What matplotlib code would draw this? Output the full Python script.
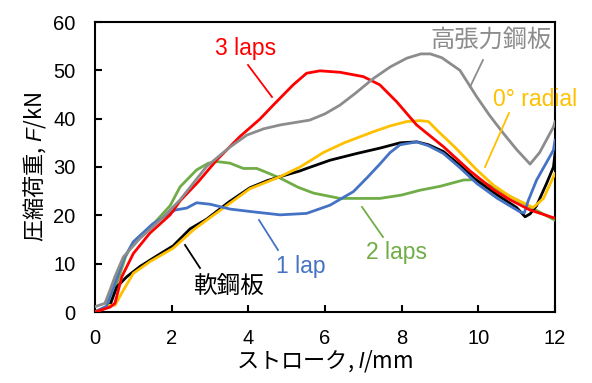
import matplotlib
matplotlib.use("Agg")
import matplotlib.pyplot as plt

plt.rcParams['font.family'] = ['Liberation Sans', 'Noto Sans CJK JP', 'DejaVu Sans']
plt.rcParams['mathtext.fontset'] = 'custom'
plt.rcParams['mathtext.it'] = 'Liberation Sans:italic'
plt.rcParams['mathtext.rm'] = 'Liberation Sans'

# ---- data (stroke l / mm, load F / kN) ----
x_red = [0, 0.39, 0.52, 0.70, 1.0, 1.43, 1.96, 2.22, 2.7, 3.17, 3.78, 4.3, 4.65, 5.17, 5.52, 5.87, 6.39, 7.0, 7.43, 7.87, 8.39, 9.09, 9.78, 10.4, 10.83, 11.35, 12.0]
y_red = [0, 1.0, 1.8, 7.3, 12.1, 16.3, 20.1, 23.0, 27.0, 31.4, 36.3, 39.9, 42.8, 47.0, 49.4, 49.9, 49.6, 48.7, 47.0, 43.5, 38.7, 34.2, 29.2, 25.3, 23.2, 21.1, 19.4]

x_gray = [0, 0.26, 0.39, 0.52, 0.74, 1.17, 1.70, 2.22, 2.91, 3.5, 3.96, 4.4, 4.83, 5.6, 6.0, 6.39, 6.8, 7.26, 7.7, 8.13, 8.5, 8.75, 9.05, 9.52, 9.96, 10.3, 10.65, 11.0, 11.35, 11.6, 11.96, 12.0]
y_gray = [1.1, 1.8, 4.5, 7.3, 11.4, 15.2, 19.0, 23.2, 30.1, 34.0, 36.6, 37.9, 38.7, 39.7, 41.0, 42.8, 45.3, 48.3, 50.7, 52.5, 53.4, 53.4, 52.6, 50.0, 44.5, 40.6, 37.0, 33.6, 30.6, 33.0, 38.3, 39.4]

x_green = [0, 0.39, 0.57, 0.8, 1.0, 1.5, 1.96, 2.22, 2.65, 2.96, 3.2, 3.52, 3.87, 4.22, 4.5, 4.83, 5.3, 5.70, 6.39, 7.43, 8.0, 8.48, 9.0, 9.61, 9.96, 10.4, 10.83, 11.4, 12.0]
y_green = [0, 1.4, 5.9, 11.5, 14.5, 18.0, 22.0, 25.9, 29.4, 30.8, 31.1, 30.8, 29.7, 29.7, 28.8, 27.7, 25.8, 24.6, 23.5, 23.5, 24.2, 25.2, 26.0, 27.3, 27.4, 25.8, 23.9, 21.5, 19.0]

x_blue = [0, 0.3, 0.5, 0.75, 1.0, 1.5, 2.09, 2.39, 2.65, 3.0, 3.52, 4.04, 4.83, 5.52, 6.13, 6.74, 7.1, 7.43, 7.7, 7.96, 8.39, 8.7, 9.09, 9.5, 9.96, 10.5, 11.09, 11.2, 11.3, 11.52, 11.96, 12.0]
y_blue = [0, 1.2, 5.5, 11.0, 14.5, 18.2, 21.1, 21.5, 22.6, 22.3, 21.3, 20.8, 20.1, 20.4, 22.1, 24.9, 27.8, 30.6, 33.0, 34.6, 35.2, 34.4, 32.8, 30.0, 26.6, 23.5, 20.7, 20.5, 23.0, 27.3, 33.5, 35.6]

x_black = [0, 0.39, 0.57, 0.83, 1.17, 1.61, 2.04, 2.48, 2.91, 3.5, 4.04, 4.5, 4.83, 5.35, 5.52, 6.13, 6.83, 7.43, 7.96, 8.4, 8.7, 9.09, 9.5, 9.96, 10.5, 11.0, 11.22, 11.35, 11.52, 11.78, 11.96, 12.0]
y_black = [0, 1.4, 5.2, 7.3, 9.4, 11.6, 13.7, 17.2, 19.2, 22.8, 25.7, 27.2, 28.0, 29.2, 29.7, 31.4, 32.8, 33.9, 35.0, 35.2, 34.6, 33.2, 30.5, 27.2, 24.2, 21.6, 19.7, 20.3, 22.0, 26.6, 30.0, 32.8]

x_yellow = [0, 0.39, 0.52, 0.74, 1.0, 1.43, 2.04, 2.57, 2.91, 3.52, 4.04, 4.83, 5.35, 5.96, 6.5, 7.26, 7.7, 8.13, 8.48, 8.7, 8.91, 9.4, 9.96, 10.4, 10.83, 11.43, 11.7, 11.96, 12.0]
y_yellow = [0, 1.4, 1.4, 4.5, 8.0, 10.4, 13.2, 17.0, 19.0, 22.5, 25.5, 28.0, 30.0, 33.0, 35.0, 37.3, 38.5, 39.4, 39.6, 39.4, 37.7, 34.0, 29.4, 26.2, 23.9, 21.6, 23.5, 28.0, 28.7]

x_ticks = [0, 2, 4, 6, 8, 10, 12]
y_ticks = [0, 10, 20, 30, 40, 50, 60]

# ---- figure ----
W, H = 592, 383
fig = plt.figure(figsize=(W / 100, H / 100), dpi=100)
ax = fig.add_axes([95 / W, 1 - 312 / H, (555 - 95) / W, (312 - 22) / H])

lw = 2.0
kw = dict(lw=lw, solid_joinstyle='round', solid_capstyle='round')
ax.plot(x_green, y_green, color='#70AD47', zorder=3, **kw)
ax.plot(x_black, y_black, color='black', zorder=4, **kw)
ax.plot(x_yellow, y_yellow, color='#FFC000', zorder=4.1, **kw)
ax.plot(x_blue, y_blue, color='#4472C4', zorder=4.2, **kw)
ax.plot(x_red, y_red, color='#FF0000', zorder=4.3, **kw)
ax.plot(x_gray, y_gray, color='#8C8C8C', zorder=4.4, **kw)

ax.set_xlim(0, 12)
ax.set_ylim(0, 60)
ax.set_xticks(x_ticks)
ax.set_yticks(y_ticks)
ax.set_xticklabels([str(v) for v in x_ticks])
ax.set_yticklabels([str(v) for v in y_ticks])
ax.tick_params(axis='both', direction='in', length=5, width=1.5, labelsize=14.5)
ax.tick_params(axis='x', pad=12, top=False)
ax.tick_params(axis='y', pad=14, right=False)
for s in ax.spines.values():
    s.set_linewidth(1.5)

cjk = ['Noto Sans CJK JP', 'DejaVu Sans']
ax.set_xlabel('ストローク, $\\mathit{l}$/mm', fontsize=16, family=cjk, labelpad=0)
ax.set_ylabel('圧縮荷重, $\\mathit{F}$/kN', fontsize=16, family=cjk, labelpad=4)

def px(x, y):
    return ((x - 95) / 460 * 12, (312 - y) / 290 * 60)

def note(text, tx, ty, p0, p1, color, family=None, size=16.5):
    ax.text(*px(tx, ty), text, color=color, fontsize=size, ha='center', va='center',
            family=family if family else ['Liberation Sans'])
    (x0, y0), (x1, y1) = px(*p0), px(*p1)
    ax.plot([x0, x1], [y0, y1], color=color, lw=1.3, zorder=5)

note('3 laps', 246, 48, (248, 65), (272, 97), '#FF0000')
note('高張力鋼板', 491, 40, (483, 60), (470, 87), '#8C8C8C', family=cjk, size=17.5)
note('0° radial', 535, 100, (509, 113), (485, 167), '#FFC000')
note('1 lap', 301, 267, (259, 220), (278, 250), '#4472C4')
note('2 laps', 397, 253, (362, 207), (383, 237), '#70AD47')
note('軟鋼板', 228, 286, (185, 245), (200, 268), 'black', family=cjk, size=17)

fig.savefig('out.png', dpi=100)
